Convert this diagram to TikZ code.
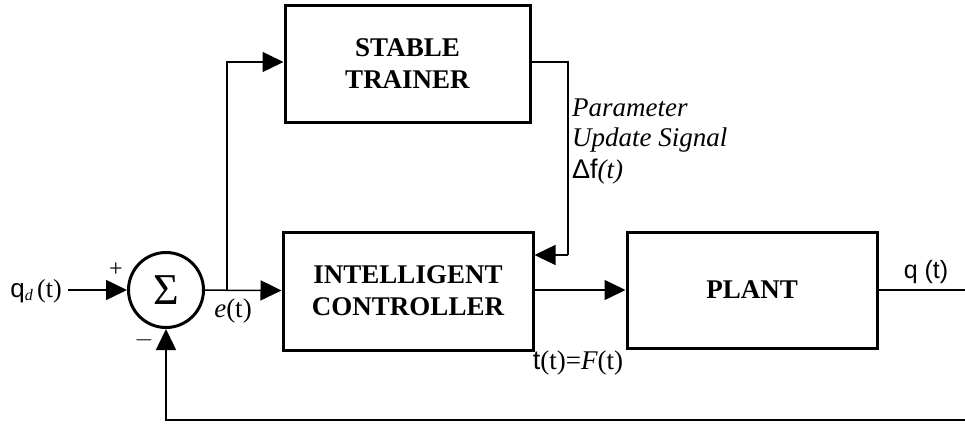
\documentclass[tikz,border=0pt]{standalone}
\usepackage{fontspec}
\setmainfont{Liberation Serif}
\newfontfamily\symf{Liberation Sans}
\usetikzlibrary{arrows.meta}
\begin{document}
\begin{tikzpicture}[x=1pt,y=-1pt,
  blk/.style={draw,line width=3pt,minimum width=248pt,minimum height=116pt,font=\fontsize{27}{32}\selectfont\bfseries,align=center,inner sep=0pt},
  conn/.style={line width=1.5pt,-{Triangle[length=21pt,width=20pt]}},
  plain/.style={line width=1.5pt},
  lbl/.style={font=\fontsize{27}{32}\selectfont,inner sep=0pt}]
\useasboundingbox (0,0) rectangle (965,423);
\node[blk,minimum width=245pt,minimum height=117pt] (trainer) at (407.5,63.5) {STABLE\\TRAINER};
\node[blk,minimum width=250pt,minimum height=118pt] (ctrl) at (408,291) {INTELLIGENT\\CONTROLLER};
\node[blk,minimum width=250pt,minimum height=116pt] (plant) at (752,290) {PLANT};
\node[draw,circle,line width=3pt,minimum size=75pt,inner sep=0pt,font=\fontsize{44}{44}\selectfont] (sum) at (166,290) {\char"03A3};
\coordinate (in) at (68,290);
\coordinate (br) at (227,290);
\coordinate (brt) at (227,62);
\coordinate (tr1) at (568,62);
\coordinate (tr2) at (568,255);
\coordinate (out) at (965,290);
\coordinate (fb) at (965,420);
\coordinate (fbl) at (166,420);
\draw[conn] (in) -- (sum);
\draw[conn] (sum) -- (ctrl);
\draw[conn] (br) -- (brt) -- (trainer.west |- brt);
\draw[plain] (trainer.east |- tr1) -- (tr1) -- (tr2);
\draw[conn] (tr2) -- (ctrl.east |- tr2);
\draw[conn] (ctrl.east |- plant) -- (plant);
\draw[plain] (plant.east |- out) -- (out);
\draw[conn] (fb) -- (fbl) -- (sum);
\node[lbl,font=\fontsize{26}{30}\selectfont] (qd) at (36,291) {{\symf q}{\fontsize{16}{16}\selectfont\itshape\raisebox{-3pt}{d}}\,(t)};
\node[lbl,font=\fontsize{24}{24}\selectfont] (plus) at (116,270) {+};
\node[lbl,font=\fontsize{24}{24}\selectfont] (minus) at (144,340) {$-$};
\node[lbl] (et) at (233,311) {\textit{e}(t)};
\node[lbl] (tau) at (578,363) {{\symf t}(t)=\textit{F}(t)};
\node[lbl,anchor=west] (p1) at (572,108) {\textit{Parameter}};
\node[lbl,anchor=west] (p2) at (572,140) {\textit{Update Signal}};
\node[lbl,anchor=west] (p3) at (572,172) {{\symf\char"0394 f}\textit{(t)}};
\node[lbl,font=\fontsize{25}{30}\selectfont] (qt) at (926,272) {\symf q (t)};
\end{tikzpicture}
\end{document}
